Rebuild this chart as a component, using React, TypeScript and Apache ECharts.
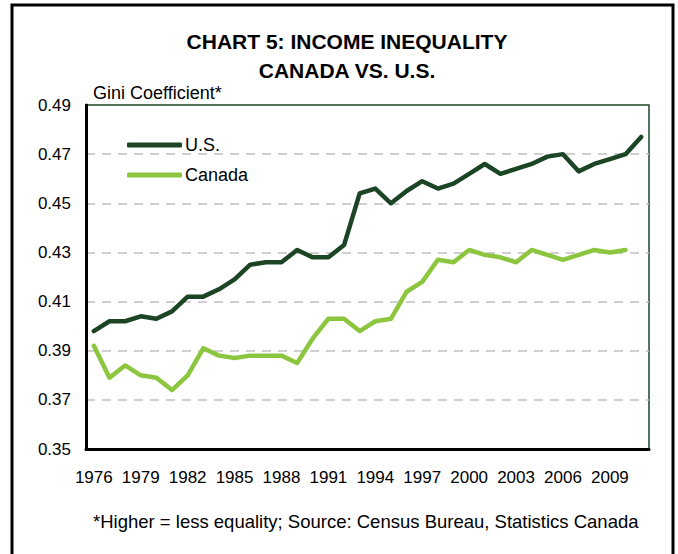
import React, { useEffect, useRef } from "react";
import * as echarts from "echarts";

const years = [
  "1976","1977","1978","1979","1980","1981","1982","1983","1984","1985",
  "1986","1987","1988","1989","1990","1991","1992","1993","1994","1995",
  "1996","1997","1998","1999","2000","2001","2002","2003","2004","2005",
  "2006","2007","2008","2009","2010","2011",
];

const usGini = [
  0.398, 0.402, 0.402, 0.404, 0.403, 0.406, 0.412, 0.412, 0.415, 0.419,
  0.425, 0.426, 0.426, 0.431, 0.428, 0.428, 0.433, 0.454, 0.456, 0.450,
  0.455, 0.459, 0.456, 0.458, 0.462, 0.466, 0.462, 0.464, 0.466, 0.469,
  0.470, 0.463, 0.466, 0.468, 0.470, 0.477,
];

const canadaGini = [
  0.392, 0.379, 0.384, 0.380, 0.379, 0.374, 0.380, 0.391, 0.388, 0.387,
  0.388, 0.388, 0.388, 0.385, 0.395, 0.403, 0.403, 0.398, 0.402, 0.403,
  0.414, 0.418, 0.427, 0.426, 0.431, 0.429, 0.428, 0.426, 0.431, 0.429,
  0.427, 0.429, 0.431, 0.430, 0.431,
];

const titleText = "CHART 5: INCOME INEQUALITY\nCANADA VS. U.S.";
const yAxisLabel = "Gini Coefficient*";
const footnote = "*Higher = less equality; Source: Census Bureau, Statistics Canada";

const FONT = "'Liberation Sans', Arial, Helvetica, sans-serif";
const US_COLOR = "#1c4526";
const CA_COLOR = "#8cc63f";

export default function App() {
  const ref = useRef<HTMLDivElement>(null);

  useEffect(() => {
    if (!ref.current) return;
    const chart = echarts.init(ref.current, undefined, { renderer: "svg" });
    chart.setOption({
      animation: false,
      backgroundColor: "#ffffff",
      title: {
        text: titleText,
        left: 342,
        textAlign: "center",
        top: 22,
        textStyle: {
          fontFamily: FONT,
          fontSize: 21,
          fontWeight: "bold",
          color: "#000",
          lineHeight: 29,
        },
      },
      legend: {
        data: ["U.S.", "Canada"],
        orient: "vertical",
        left: 122,
        top: 131,
        itemWidth: 55,
        itemHeight: 5,
        itemGap: 12,
        icon: "roundRect",
        textStyle: { fontFamily: FONT, fontSize: 18, color: "#000", padding: [0, 0, 0, -2] },
      },
      grid: {
        left: 86,
        right: 29,
        top: 105,
        bottom: 105,
        show: true,
        borderColor: US_COLOR,
        borderWidth: 1.5,
        backgroundColor: "transparent",
      },
      xAxis: {
        type: "category",
        data: years,
        boundaryGap: true,
        axisLine: { show: true, lineStyle: { color: "#000", width: 3 } },
        axisTick: { show: false },
        axisLabel: {
          interval: 2,
          margin: 20,
          fontFamily: FONT,
          fontSize: 17,
          color: "#000",
        },
        splitLine: { show: false },
      },
      yAxis: {
        type: "value",
        min: 0.35,
        max: 0.49,
        interval: 0.02,
        axisLine: { show: true, lineStyle: { color: "#000", width: 3 } },
        axisTick: { show: false },
        axisLabel: {
          margin: 15,
          fontFamily: FONT,
          fontSize: 17,
          color: "#000",
          formatter: (v: number) => v.toFixed(2),
        },
        splitLine: {
          show: true,
          showMinLine: false,
          showMaxLine: false,
          lineStyle: { color: "#c0c0c0", type: [9, 7], width: 1.5 },
        },
      },
      graphic: [
        {
          type: "rect",
          shape: { x: 12, y: 5, width: 661, height: 560 },
          style: { fill: "none", stroke: "#000", lineWidth: 3 },
          silent: true,
        },
        {
          type: "text",
          left: 93,
          top: 84,
          style: { text: yAxisLabel, fontFamily: FONT, fontSize: 18, fill: "#000" },
        },
        {
          type: "text",
          left: 93,
          top: 512,
          style: { text: footnote, fontFamily: FONT, fontSize: 18.5, fill: "#000" },
        },
      ],
      series: [
        {
          name: "U.S.",
          type: "line",
          data: usGini,
          symbol: "none",
          color: US_COLOR,
          lineStyle: { color: US_COLOR, width: 4.5, cap: "round", join: "round" },
        },
        {
          name: "Canada",
          type: "line",
          data: canadaGini,
          symbol: "none",
          color: CA_COLOR,
          lineStyle: { color: CA_COLOR, width: 4.5, cap: "round", join: "round" },
        },
      ],
    });
    return () => chart.dispose();
  }, []);

  return <div ref={ref} style={{ width: 678, height: 554, position: "absolute", left: 0, top: 0 }} />;
}
